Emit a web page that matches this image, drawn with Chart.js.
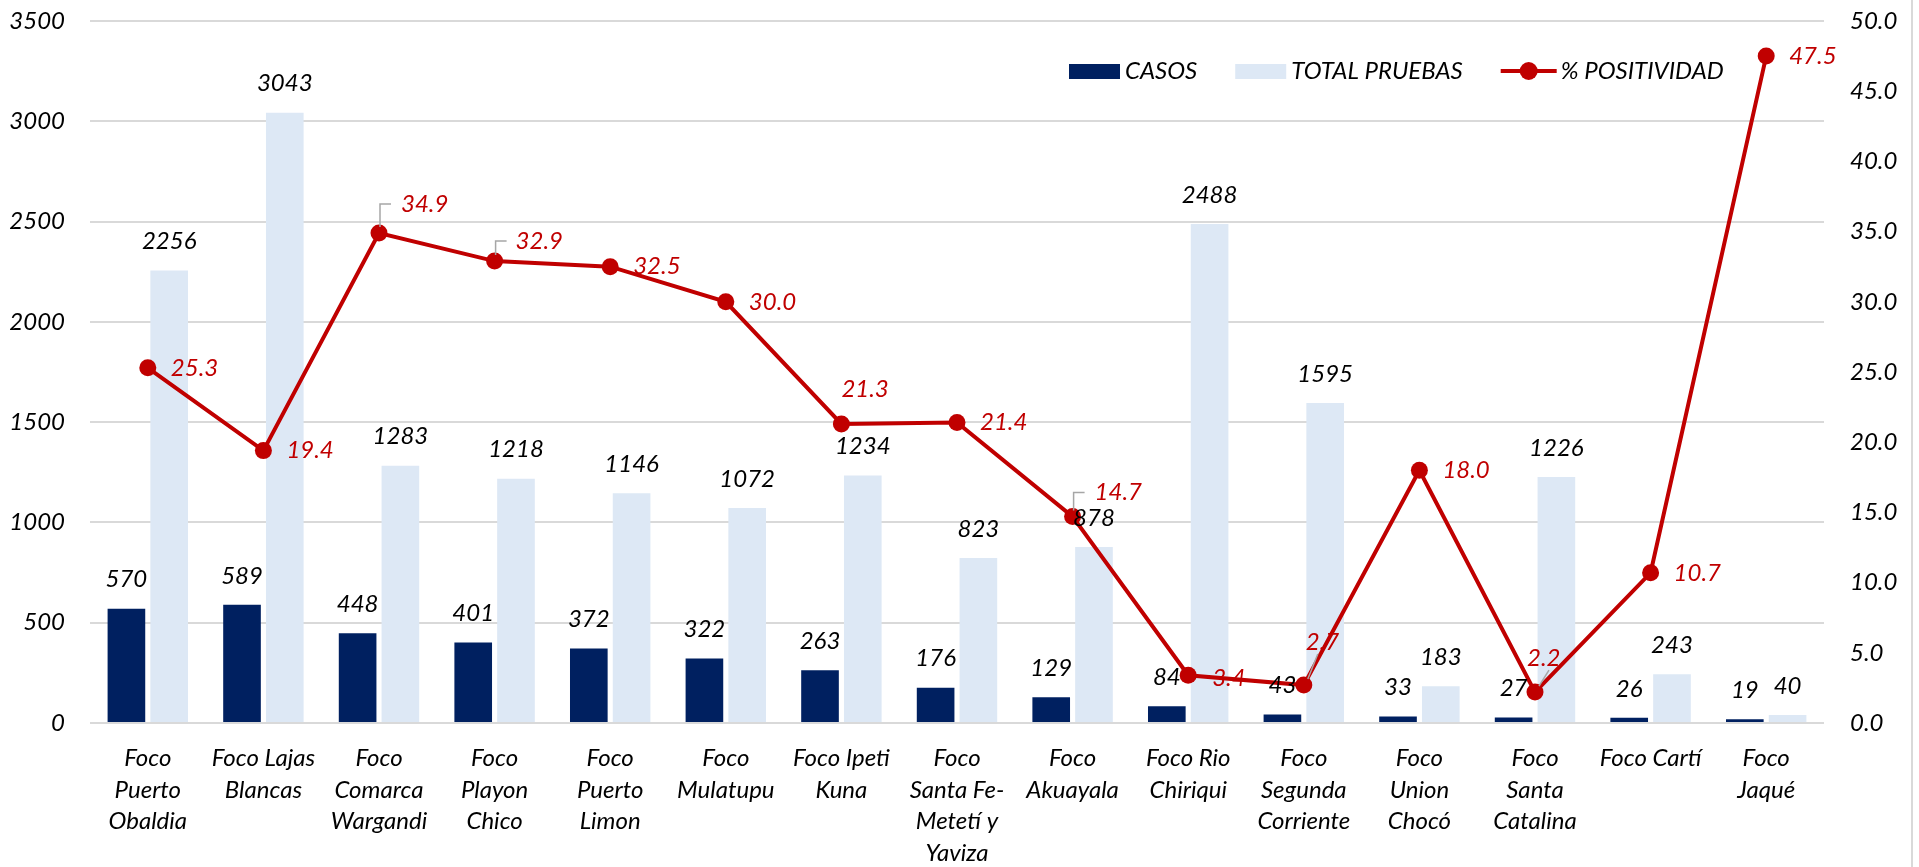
<!DOCTYPE html>
<html lang="es">
<head>
    <meta charset="UTF-8">
    <title>Casos, pruebas y % de positividad por foco</title>
    <script src="https://cdn.jsdelivr.net/npm/chart.js"></script>
    <style>
        html, body { margin: 0; padding: 0; background: #fff; }
        .grafica { position: relative; width: 1919px; height: 867px; }
        .grafica::after {
            content: ""; position: absolute; top: 0; left: 1911px;
            width: 2px; height: 867px; background: #d9d9d9;
        }
    </style>
</head>
<body>
    <div class="grafica">
        <canvas id="miGrafica"></canvas>
    </div>

    <script>
        // Datos
        const focos = [
            ["Foco", "Puerto", "Obaldia"],
            ["Foco Lajas", "Blancas"],
            ["Foco", "Comarca", "Wargandi"],
            ["Foco", "Playon", "Chico"],
            ["Foco", "Puerto", "Limon"],
            ["Foco", "Mulatupu"],
            ["Foco Ipeti", "Kuna"],
            ["Foco", "Santa Fe-", "Metetí y", "Yaviza"],
            ["Foco", "Akuayala"],
            ["Foco Rio", "Chiriqui"],
            ["Foco", "Segunda", "Corriente"],
            ["Foco", "Union", "Chocó"],
            ["Foco", "Santa", "Catalina"],
            ["Foco Cartí"],
            ["Foco", "Jaqué"]
        ];
        const casos = [570, 589, 448, 401, 372, 322, 263, 176, 129, 84, 43, 33, 27, 26, 19];
        const totalPruebas = [2256, 3043, 1283, 1218, 1146, 1072, 1234, 823, 878, 2488, 1595, 183, 1226, 243, 40];
        const positividad = [25.3, 19.4, 34.9, 32.9, 32.5, 30.0, 21.3, 21.4, 14.7, 3.4, 2.7, 18.0, 2.2, 10.7, 47.5];

        const ticksCasos = [0, 500, 1000, 1500, 2000, 2500, 3000, 3500];
        const ticksPositividad = [0, 5, 10, 15, 20, 25, 30, 35, 40, 45, 50];

        const AZUL = '#002060';
        const CELESTE = '#dde8f5';
        const ROJO = '#c00000';
        const GRIS = '#d9d9d9';
        const FUENTE = 'italic 24px Lato, "Open Sans", sans-serif';

        Chart.defaults.font.family = 'Lato, "Open Sans", sans-serif';
        Chart.defaults.font.style = 'italic';
        Chart.defaults.font.size = 24;
        Chart.defaults.color = '#000';

        // desplazamiento de las etiquetas de % (las que no van a la derecha del punto)
        const ajusteEtiquetas = {
            2: { dx: 22, dy: -29, guia: 'codo' },
            3: { dx: 21, dy: -20, guia: 'codo' },
            6: { dx: 0, dy: -35 },
            8: { dx: 22, dy: -24, guia: 'codo' },
            9: { dx: 24, dy: 3 },
            10: { dx: 2, dy: -43, guia: 'diag' },
            12: { dx: -8, dy: -34, guia: 'diag' }
        };

        // etiquetas de valores sobre barras y puntos
        const etiquetas = {
            id: 'etiquetas',
            afterDatasetsDraw(chart) {
                const ctx = chart.ctx;
                ctx.save();
                ctx.font = FUENTE;
                ctx.textBaseline = 'middle';

                [0, 1].forEach(d => {
                    const meta = chart.getDatasetMeta(d);
                    ctx.fillStyle = '#000';
                    ctx.textAlign = 'center';
                    meta.data.forEach((bar, i) => {
                        ctx.fillText(chart.data.datasets[d].data[i], bar.x, bar.y - 29);
                    });
                });

                const metaLinea = chart.getDatasetMeta(2);
                ctx.textAlign = 'left';
                metaLinea.data.forEach((p, i) => {
                    const aj = ajusteEtiquetas[i] || { dx: 23, dy: 0 };
                    const tx = p.x + aj.dx;
                    const ty = p.y + aj.dy;
                    if (aj.guia) {
                        ctx.strokeStyle = '#a6a6a6';
                        ctx.lineWidth = 1.5;
                        ctx.beginPath();
                        if (aj.guia === 'codo') {
                            ctx.moveTo(p.x + 1, p.y - 6);
                            ctx.lineTo(p.x + 1, ty);
                            ctx.lineTo(p.x + 12, ty);
                        } else {
                            ctx.moveTo(p.x + 4, p.y - 6);
                            ctx.lineTo(p.x + 14, ty + 12);
                        }
                        ctx.stroke();
                    }
                    ctx.fillStyle = ROJO;
                    ctx.fillText(positividad[i].toFixed(1), tx, ty);
                });
                ctx.restore();
            }
        };

        // leyenda dentro del área del gráfico, arriba a la derecha
        const leyenda = {
            id: 'leyenda',
            afterDraw(chart) {
                const ctx = chart.ctx;
                const y = 71;
                let x = 1069;
                ctx.save();
                ctx.font = FUENTE;
                ctx.textBaseline = 'middle';
                ctx.textAlign = 'left';
                chart.data.datasets.forEach(ds => {
                    if (ds.type === 'line') {
                        ctx.strokeStyle = ds.borderColor;
                        ctx.lineWidth = 4;
                        ctx.beginPath();
                        ctx.moveTo(x, y);
                        ctx.lineTo(x + 56, y);
                        ctx.stroke();
                        ctx.fillStyle = ds.borderColor;
                        ctx.beginPath();
                        ctx.arc(x + 28, y, 9, 0, Math.PI * 2);
                        ctx.fill();
                        x += 60;
                    } else {
                        ctx.fillStyle = ds.backgroundColor;
                        ctx.fillRect(x, y - 7, 51, 15);
                        x += 56;
                    }
                    ctx.fillStyle = '#000';
                    ctx.fillText(ds.label, x, y);
                    x += ctx.measureText(ds.label).width + 38;
                });
                ctx.restore();
            }
        };

        // el eje vertical no debe reservar margen extra arriba/abajo
        function sinRelleno(scale) {
            scale.paddingTop = 0;
            scale.paddingBottom = 0;
        }

        const ctx = document.getElementById('miGrafica').getContext('2d');
        const chart = new Chart(ctx, {
            data: {
                labels: focos,
                datasets: [
                    {
                        type: 'bar',
                        label: 'CASOS',
                        data: casos,
                        backgroundColor: AZUL,
                        yAxisID: 'y',
                        order: 2,
                        categoryPercentage: 0.74,
                        barPercentage: 0.88
                    },
                    {
                        type: 'bar',
                        label: 'TOTAL PRUEBAS',
                        data: totalPruebas,
                        backgroundColor: CELESTE,
                        yAxisID: 'y',
                        order: 3,
                        categoryPercentage: 0.74,
                        barPercentage: 0.88
                    },
                    {
                        type: 'line',
                        label: '% POSITIVIDAD',
                        data: positividad,
                        borderColor: ROJO,
                        backgroundColor: ROJO,
                        borderWidth: 4,
                        pointRadius: 8.5,
                        pointHoverRadius: 8.5,
                        pointBackgroundColor: ROJO,
                        pointBorderWidth: 0,
                        tension: 0,
                        yAxisID: 'y1',
                        order: 1
                    }
                ]
            },
            options: {
                responsive: true,
                maintainAspectRatio: false,
                animation: false,
                layout: { padding: { top: 21, left: 0, right: 0, bottom: 0 } },
                plugins: {
                    legend: { display: false },
                    tooltip: { enabled: false }
                },
                scales: {
                    x: {
                        grid: { display: false, drawTicks: false },
                        border: { display: false },
                        ticks: {
                            maxRotation: 0,
                            minRotation: 0,
                            autoSkip: false,
                            padding: 20,
                            font: { lineHeight: 1.31 }
                        },
                        afterFit(scale) { scale.height = 144; }
                    },
                    y: {
                        position: 'left',
                        min: 0,
                        max: 3500,
                        afterBuildTicks(scale) { scale.ticks = ticksCasos.map(v => ({ value: v })); },
                        grid: { color: GRIS, lineWidth: 2, drawTicks: false },
                        border: { display: false },
                        ticks: {
                            padding: 25,
                            callback: v => String(v)
                        },
                        afterFit(scale) { scale.width = 90; sinRelleno(scale); }
                    },
                    y1: {
                        position: 'right',
                        min: 0,
                        max: 50,
                        afterBuildTicks(scale) { scale.ticks = ticksPositividad.map(v => ({ value: v })); },
                        grid: { display: false, drawTicks: false },
                        border: { display: false },
                        ticks: {
                            padding: 26,
                            callback: v => v.toFixed(1)
                        },
                        afterFit(scale) { scale.width = 95; sinRelleno(scale); }
                    }
                }
            },
            plugins: [etiquetas, leyenda]
        });
    </script>
</body>
</html>
